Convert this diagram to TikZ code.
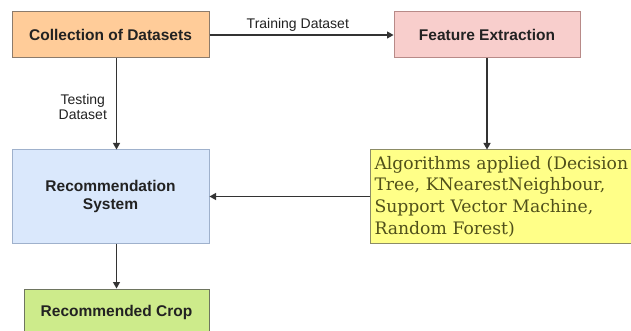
\documentclass[tikz,border=0pt]{standalone}
\usepackage{fontspec}
\setmainfont{Liberation Sans}
\newfontfamily\algfont{DejaVu Serif}
\usetikzlibrary{arrows.meta}
\definecolor{orangefill}{HTML}{FFCC99}
\definecolor{orangedraw}{HTML}{8C7B6B}
\definecolor{redfill}{HTML}{F8CECC}
\definecolor{reddraw}{HTML}{B88A88}
\definecolor{bluefill}{HTML}{DAE8FC}
\definecolor{bluedraw}{HTML}{9FB1CC}
\definecolor{greenfill}{HTML}{CDEB8B}
\definecolor{greendraw}{HTML}{6E7560}
\definecolor{yellowfill}{HTML}{FFFF88}
\definecolor{yellowdraw}{HTML}{8C8C66}
\definecolor{algtext}{HTML}{50501A}
\definecolor{linecol}{HTML}{333333}
\definecolor{txt}{HTML}{222222}
\begin{document}
\begin{tikzpicture}[x=1pt,y=-1pt,
  box/.style={rectangle, line width=1pt, inner sep=0pt, align=center,
    font=\fontsize{15.5}{18}\selectfont\bfseries, text=txt},
  conn/.style={line width=1.2pt, draw=linecol, -{Triangle[length=6.5pt,width=7pt]}},
  lbl/.style={font=\fontsize{14}{15}\selectfont, text=txt, inner sep=1pt, align=center}]
\useasboundingbox (0,0) rectangle (631,331);
\clip (0,0) rectangle (631,331);
\fill[white] (0,0) rectangle (631,331);
\node[box, fill=orangefill, draw=orangedraw, minimum width=197pt, minimum height=46pt] (coll) at (110.5,35) {Collection of Datasets};
\node[box, fill=redfill, draw=reddraw, minimum width=186pt, minimum height=46pt] (feat) at (487,35) {Feature Extraction};
\node[box, fill=bluefill, draw=bluedraw, minimum width=197pt, minimum height=93pt] (rec) at (110.5,196.5) {Recommendation\\System};
\node[box, fill=greenfill, draw=greendraw, minimum width=185pt, minimum height=46pt] (crop) at (116.5,312) {Recommended Crop};
\node[rectangle, fill=yellowfill, draw=yellowdraw, line width=1pt, minimum width=330pt, minimum height=93pt,
  text width=322pt, inner sep=3.5pt, align=left, text=algtext,
  font=\algfont\fontsize{17.2}{21.7}\selectfont] (alg) at (535.5,196.5)
  {Algorithms applied (Decision\\Tree, KNearestNeighbour,\\Support Vector Machine,\\Random Forest)};
\draw[conn] (coll.east) -- node[lbl, above, pos=0.48, yshift=2pt] {Training Dataset} (feat.west);
\draw[conn] (coll.south -| crop) -- node[lbl, left, pos=0.5, xshift=-8pt, yshift=-3pt] {Testing\\Dataset} (rec.north -| crop);
\draw[conn] (feat.south) -- (alg.north -| feat);
\draw[conn] (alg.west) -- (rec.east);
\draw[conn] (rec.south -| crop) -- (crop.north);
\end{tikzpicture}
\end{document}
